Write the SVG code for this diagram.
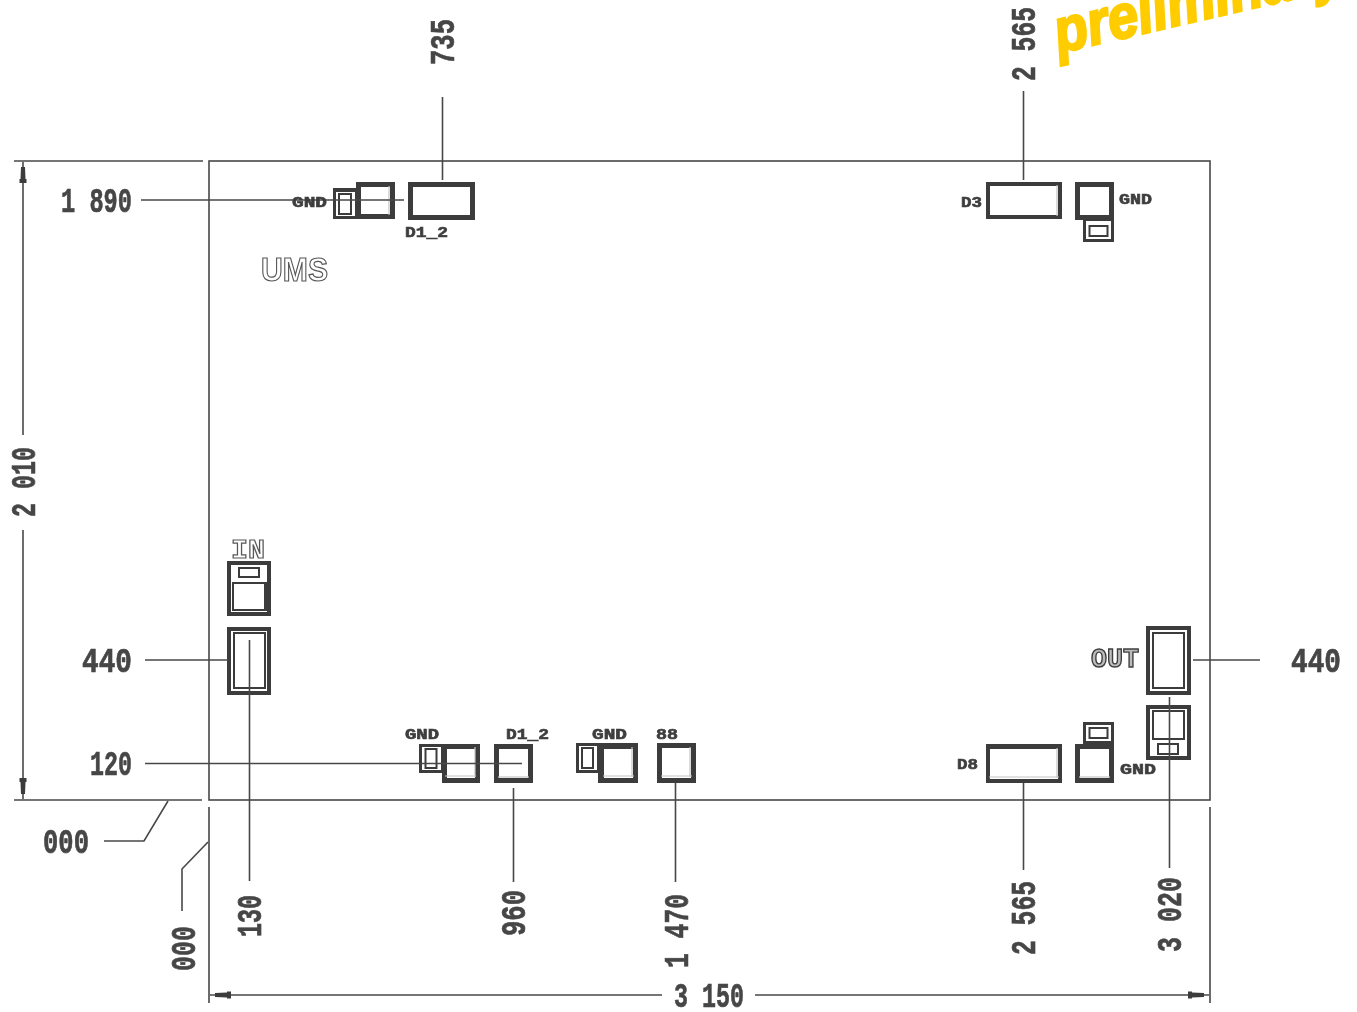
<svg xmlns="http://www.w3.org/2000/svg" width="1357" height="1012" viewBox="0 0 1357 1012">
<style>
text{font-family:"Liberation Mono","Courier New",monospace;fill:#444}
.d{font-size:35px;font-weight:700;stroke:#444;stroke-width:.7px}
.s{font-size:14px;font-weight:700;fill:#3c3c3c;stroke:#3c3c3c;stroke-width:.6px}
.o{font-size:27px;fill:#bbb;stroke:#3c3c3c;stroke-width:1.4px;font-weight:700}
.l{fill:none;stroke:#484848;stroke-width:1.6}
.p{fill:#3c3c3c}
.w{fill:#fff}
.t{fill:none;stroke:#3c3c3c;stroke-width:2}
.g{fill:none;stroke:#c4c4c4;stroke-width:1.2}
#labels{opacity:.99}
</style>
<defs>
<marker id="a" markerUnits="userSpaceOnUse" markerWidth="22" markerHeight="10" refX="21" refY="5" orient="auto"><path d="M0 1.500H4V2.500L16 3V7L4 7.500V8.500H0Z" fill="#3c3c3c"/></marker>
</defs>
<g id="watermark"><text x="1059" y="53" transform="rotate(-13 1059 53)" textLength="294" lengthAdjust="spacingAndGlyphs" style="font-family:'Liberation Sans',Arial,sans-serif;font-size:62px;font-weight:700;font-style:italic;fill:#ffcc00;stroke:#ffcc00;stroke-width:2.5px">preliminary</text></g>

<g id="board"><rect x="209" y="161" width="1001" height="639" class="l"/></g>

<g id="j1"><rect class="p" x="333" y="188" width="27" height="31"/><rect class="w" x="336" y="192" width="19" height="24"/><rect class="t" x="339" y="194" width="12" height="20"/>
<path class="p" d="M356 182H395V219H356Z"/><rect class="w" x="361" y="187" width="29" height="27"/><path class="g" d="M389 186V215"/></g>
<g id="j2"><rect class="p" x="408" y="182" width="67" height="38"/><rect class="w" x="413" y="187" width="57" height="28"/></g>
<g id="j3"><rect class="p" x="986" y="182" width="76" height="37"/><rect class="w" x="990" y="186" width="68" height="29"/><path class="g" d="M1057 185V216"/></g>
<g id="j4"><rect class="p" x="1083" y="217" width="31" height="25"/><rect class="w" x="1086" y="221" width="25" height="18"/><rect class="t" x="1089.500" y="226" width="18" height="10"/>
<rect class="p" x="1075" y="182" width="39" height="38"/><rect class="w" x="1080" y="187" width="29" height="28"/></g>

<g id="j5"><rect class="p" x="227" y="561" width="44" height="55"/><rect class="w" x="231" y="565" width="36" height="47"/><rect class="t" x="239" y="568" width="20" height="9"/><rect class="t" x="233" y="583" width="33" height="27"/><path class="p" d="M264 582h3v29h-3z"/></g>
<g id="j6"><rect class="p" x="227" y="627" width="44" height="68"/><rect class="w" x="231" y="631" width="36" height="60"/><rect class="t" x="234" y="633" width="31" height="55"/></g>

<g id="j7"><rect class="p" x="419" y="744" width="25" height="29"/><rect class="w" x="422" y="747" width="19" height="23"/><rect class="t" x="425.500" y="749" width="11" height="19"/>
<rect class="p" x="442" y="744" width="38" height="39"/><rect class="w" x="447" y="749" width="28" height="29"/><path class="g" d="M445 776H476M475 747V777"/></g>
<g id="j8"><rect class="p" x="494" y="744" width="39" height="39"/><rect class="w" x="499" y="749" width="29" height="29"/><path class="g" d="M498 777H529"/></g>
<g id="j9"><rect class="p" x="576" y="743" width="24" height="30"/><rect class="w" x="579" y="746" width="18" height="24"/><rect class="t" x="582" y="748" width="11" height="20"/>
<rect class="p" x="598" y="743" width="40" height="40"/><rect class="w" x="604" y="749" width="29" height="29"/><path class="g" d="M603 776H634M632 747V777"/></g>
<g id="j10"><rect class="p" x="657" y="743" width="39" height="40"/><rect class="w" x="662" y="748" width="29" height="30"/><path class="g" d="M661 776H692M690 747V777"/></g>

<g id="j11"><rect class="p" x="986" y="744" width="76" height="39"/><rect class="w" x="990" y="749" width="68" height="30"/><path class="g" d="M989 777H1059M1057 748V778"/></g>
<g id="j12"><rect class="p" x="1083" y="722" width="31" height="25"/><rect class="w" x="1086" y="725" width="25" height="16"/><rect class="t" x="1089.500" y="728" width="18" height="10"/>
<rect class="p" x="1075" y="744" width="39" height="39"/><rect class="w" x="1080" y="749" width="29" height="29"/><path class="g" d="M1079 777H1110"/></g>
<g id="j13"><rect class="p" x="1146" y="626" width="45" height="69"/><rect class="w" x="1150" y="630" width="37" height="61"/><rect class="t" x="1153" y="633" width="31" height="55"/></g>
<g id="j14"><rect class="p" x="1146" y="705" width="45" height="55"/><rect class="w" x="1150" y="709" width="37" height="47"/><rect class="t" x="1153" y="711" width="31" height="28"/><rect class="t" x="1158" y="744" width="20" height="10"/></g>

<g id="connectors" class="l">
<path d="M442.500 97V180M1023.500 91V180M141 200H404M145 660H228M1193 660H1260"/>
<path d="M249.500 640V881M145 763.500H522M513.500 788V882M675.500 783V882M1023.500 783V870M1169.500 697V868"/>
<path d="M104 841H144L168 801M182 911V869L208 842"/>
<path d="M14 161H203M14 800H202M209 807V1003M1210 807V1003"/>
<path d="M23 435V162" marker-end="url(#a)"/><path d="M23 530V799" marker-end="url(#a)"/>
<path d="M662 995H210" marker-end="url(#a)"/><path d="M755 995H1209" marker-end="url(#a)"/>
</g>

<g id="labels">
<text class="d" x="454" y="65" transform="rotate(-90 454 65)" textLength="46" lengthAdjust="spacingAndGlyphs">735</text>
<text class="d" x="1035" y="81" transform="rotate(-90 1035 81)" textLength="74" lengthAdjust="spacingAndGlyphs">2 565</text>
<text class="d" x="35" y="517" transform="rotate(-90 35 517)" textLength="70" lengthAdjust="spacingAndGlyphs">2 010</text>
<text class="d" x="261" y="937" transform="rotate(-90 261 937)" textLength="42" lengthAdjust="spacingAndGlyphs">130</text>
<text class="d" x="195" y="971" transform="rotate(-90 195 971)" textLength="45" lengthAdjust="spacingAndGlyphs">000</text>
<text class="d" x="525" y="936" transform="rotate(-90 525 936)" textLength="46" lengthAdjust="spacingAndGlyphs">960</text>
<text class="d" x="688" y="968" transform="rotate(-90 688 968)" textLength="74" lengthAdjust="spacingAndGlyphs">1 470</text>
<text class="d" x="1035" y="955" transform="rotate(-90 1035 955)" textLength="74" lengthAdjust="spacingAndGlyphs">2 565</text>
<text class="d" x="1181" y="952" transform="rotate(-90 1181 952)" textLength="75" lengthAdjust="spacingAndGlyphs">3 020</text>
<text class="d" x="61" y="212" textLength="71" lengthAdjust="spacingAndGlyphs">1 890</text>
<text class="d" x="82" y="672" textLength="50" lengthAdjust="spacingAndGlyphs">440</text>
<text class="d" x="90" y="775" textLength="42" lengthAdjust="spacingAndGlyphs">120</text>
<text class="d" x="43" y="853" textLength="46" lengthAdjust="spacingAndGlyphs">000</text>
<text class="d" x="1291" y="672" textLength="50" lengthAdjust="spacingAndGlyphs">440</text>
<text class="d" x="674" y="1007" textLength="70" lengthAdjust="spacingAndGlyphs">3 150</text>
<text class="s" x="292" y="207" textLength="35" lengthAdjust="spacingAndGlyphs">GND</text>
<text class="s" x="405" y="237" textLength="43" lengthAdjust="spacingAndGlyphs">D1_2</text>
<text class="s" x="961" y="207" textLength="21" lengthAdjust="spacingAndGlyphs">D3</text>
<text class="s" x="1119" y="204" textLength="33" lengthAdjust="spacingAndGlyphs">GND</text>
<text class="s" x="405" y="739" textLength="34" lengthAdjust="spacingAndGlyphs">GND</text>
<text class="s" x="506" y="739" textLength="43" lengthAdjust="spacingAndGlyphs">D1_2</text>
<text class="s" x="592" y="739" textLength="35" lengthAdjust="spacingAndGlyphs">GND</text>
<text class="s" x="656" y="739" textLength="22" lengthAdjust="spacingAndGlyphs">88</text>
<text class="s" x="957" y="769" textLength="21" lengthAdjust="spacingAndGlyphs">D8</text>
<text class="s" x="1120" y="774" textLength="36" lengthAdjust="spacingAndGlyphs">GND</text>
<text class="o" x="261" y="281" style="font-family:'Liberation Sans',Arial,sans-serif;font-size:33px;fill:#fff;stroke:#555;stroke-width:1.2px" textLength="67" lengthAdjust="spacingAndGlyphs">UMS</text>
<text class="o" x="231" y="558" style="fill:#fff;stroke:#555;stroke-width:1.2px" textLength="34" lengthAdjust="spacingAndGlyphs">IN</text>
<text class="o" x="1091" y="667" textLength="48" lengthAdjust="spacingAndGlyphs">OUT</text>
</g>
</svg>
